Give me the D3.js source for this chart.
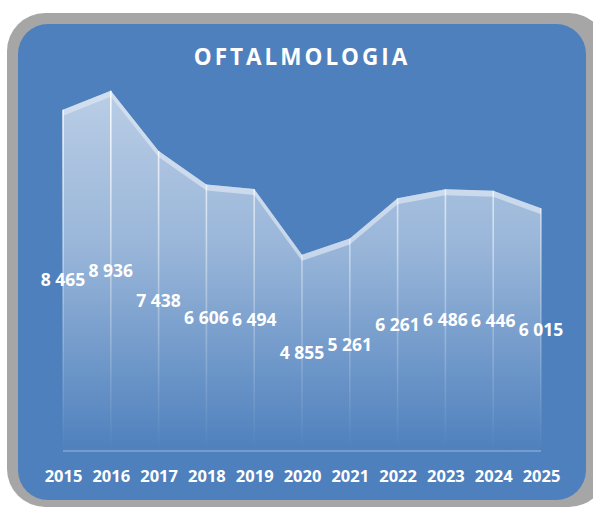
<!DOCTYPE html>
<html>
<head>
<meta charset="utf-8">
<script src="https://cdn.jsdelivr.net/npm/d3@7"></script>
<style>
  body { margin: 0; background: #fff; }
  svg { display: block; }
</style>
</head>
<body>
<div id="chart"></div>
<script>
const years = ["2015", "2016", "2017", "2018", "2019", "2020", "2021", "2022", "2023", "2024", "2025"];
const values = [8465, 8936, 7438, 6606, 6494, 4855, 5261, 6261, 6486, 6446, 6015];
const title = "OFTALMOLOGIA";

const width = 593, height = 507;
const svg = d3.select("#chart").append("svg")
  .attr("width", width)
  .attr("height", height);

const data = years.map((y, i) => ({ year: y, value: values[i] }));

const x = d3.scalePoint().domain(years).range([63, 541]);
const y = d3.scaleLinear().domain([0, 10000]).range([450, 48]);

const defs = svg.append("defs");

// front face: white fading into the blue
const faceGrad = defs.append("linearGradient")
  .attr("id", "face")
  .attr("gradientUnits", "userSpaceOnUse")
  .attr("x1", 0).attr("x2", 0).attr("y1", 48).attr("y2", 452);
faceGrad.append("stop").attr("offset", 0).attr("stop-color", "#fff").attr("stop-opacity", 0.66);
faceGrad.append("stop").attr("offset", 0.5).attr("stop-color", "#fff").attr("stop-opacity", 0.42);
faceGrad.append("stop").attr("offset", 1).attr("stop-color", "#fff").attr("stop-opacity", 0.0);

// drop lines fade out downwards
const lineGrad = defs.append("linearGradient")
  .attr("id", "drop")
  .attr("gradientUnits", "userSpaceOnUse")
  .attr("x1", 0).attr("x2", 0).attr("y1", 90).attr("y2", 450);
lineGrad.append("stop").attr("offset", 0).attr("stop-color", "#fff").attr("stop-opacity", 0.9);
lineGrad.append("stop").attr("offset", 0.6).attr("stop-color", "#fff").attr("stop-opacity", 0.3);
lineGrad.append("stop").attr("offset", 1).attr("stop-color", "#fff").attr("stop-opacity", 0.0);

// frame
svg.append("rect")
  .attr("x", 7).attr("y", 13)
  .attr("width", 600).attr("height", 494)
  .attr("rx", 38)
  .attr("fill", "#a6a6a6");

svg.append("rect")
  .attr("x", 18).attr("y", 24)
  .attr("width", 568).attr("height", 476)
  .attr("rx", 30)
  .attr("fill", "#4e80bd");

// title
svg.append("text")
  .attr("x", 302)
  .attr("y", 65)
  .attr("text-anchor", "middle")
  .attr("font-family", "'Open Sans', sans-serif")
  .attr("font-weight", "bold")
  .attr("font-size", "22.5px")
  .attr("letter-spacing", "3px")
  .attr("fill", "#fff")
  .text(title);

// floor line
svg.append("line")
  .attr("x1", x(years[0])).attr("x2", x(years[years.length - 1]))
  .attr("y1", y(0) + 1).attr("y2", y(0) + 1)
  .attr("stroke", "#fff")
  .attr("stroke-opacity", 0.3)
  .attr("stroke-width", 1.5);

// area front face
const area = d3.area()
  .x(d => x(d.year))
  .y0(y(0))
  .y1(d => y(d.value));

svg.append("path")
  .datum(data)
  .attr("d", area)
  .attr("fill", "url(#face)");

// top face band
const band = d3.area()
  .x(d => x(d.year))
  .y0(d => y(d.value) + 6)
  .y1(d => y(d.value));

svg.append("path")
  .datum(data)
  .attr("d", band)
  .attr("fill", "#dbe5f2")
  .attr("fill-opacity", 0.7);

// drop lines
svg.selectAll(".drop")
  .data(data)
  .join("line")
  .attr("class", "drop")
  .attr("x1", d => x(d.year)).attr("x2", d => x(d.year) + 0.01)
  .attr("y1", d => y(d.value)).attr("y2", y(0))
  .attr("stroke", "url(#drop)")
  .attr("stroke-width", 1.6);

// value labels, centred half way up the area
const fmt = v => d3.format(",")(v).replace(",", " ");
svg.selectAll(".val")
  .data(data)
  .join("text")
  .attr("class", "val")
  .attr("x", d => x(d.year))
  .attr("y", d => (y(d.value) + y(0)) / 2 + 6.5)
  .attr("text-anchor", "middle")
  .attr("font-family", "'Open Sans', sans-serif")
  .attr("font-weight", "bold")
  .attr("font-size", "17.5px")
  .attr("fill", "#fff")
  .text(d => fmt(d.value));

// year axis
const xAxis = svg.append("g")
  .attr("transform", "translate(0,482)")
  .call(d3.axisBottom(x).tickSize(0).tickPadding(0));
xAxis.select("path.domain").remove();
xAxis.selectAll("text")
  .attr("dy", 0)
  .attr("font-family", "'Open Sans', sans-serif")
  .attr("font-weight", "bold")
  .attr("font-size", "16.5px")
  .attr("fill", "#fff");
</script>
</body>
</html>
